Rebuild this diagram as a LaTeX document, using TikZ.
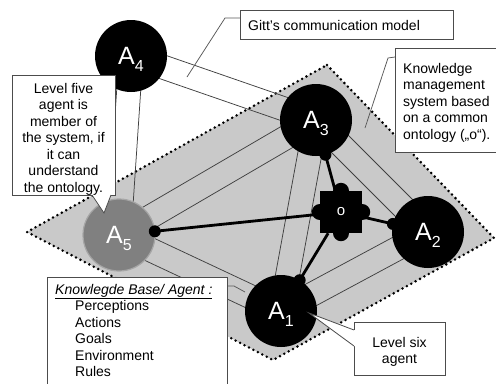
\documentclass[tikz,border=0pt]{standalone}
\usepackage{fontspec}
\setmainfont{Liberation Sans}
\usetikzlibrary{calc}
\pgfdeclarelayer{dia}
\pgfdeclarelayer{bg}
\pgfsetlayers{dia,bg,main}
\newcommand\dfont{\fontsize{14bp}{16.5bp}\selectfont}
\newcommand\afont{\fontsize{25bp}{25bp}\selectfont}
\newcommand\agsub[1]{A\raisebox{-6.5bp}{\fontsize{16bp}{16bp}\selectfont #1}}
\begin{document}
\begin{tikzpicture}[x=1bp,y=-1bp,
  agent/.style={circle, fill=black, minimum size=72bp, inner sep=0pt, text=white, font=\afont, text depth=0pt},
  pairline/.style={draw=black!75, line width=0.75bp},
  thicklink/.style={draw=black, line width=2.8bp},
  cbox/.style={draw=black!70, line width=0.8bp, fill=white, inner sep=0pt, anchor=north west},
  tailline/.style={draw=black!70, line width=0.8bp},
  leadline/.style={draw=black!65, line width=0.75bp},
  txt/.style={inner sep=0pt, font=\dfont},
]
\useasboundingbox (0,0) rectangle (496,383);
\clip (0,0) rectangle (496,383);

% diamond (knowledge management system)
\coordinate (dT) at (327,65);
\coordinate (dR) at (494,238);
\coordinate (dB) at (273,360);
\coordinate (dL) at (27,232);
\begin{pgfonlayer}{dia}
\fill[white] (0,0) rectangle (496,383);
\fill[black!21] (dT) -- (dR) -- (dB) -- (dL) -- cycle;
\draw[line width=2.8bp, dash pattern=on 0bp off 5bp, line cap=round] (dT) -- (dR) -- (dB) -- (dL) -- cycle;
\end{pgfonlayer}

% agents
\node[agent] (A4) at (131,56) {\agsub{4}};
\node[agent] (A3) at (316,120) {\agsub{3}};
\node[agent, fill=black!50, draw=black!35, line width=1.2bp] (A5) at (119,235) {\agsub{5}};
\node[agent] (A1) at (281,311) {\agsub{1}};
\node[agent] (A2) at (428,232) {\agsub{2}};

% ontology node
\node[fill=black, minimum size=42bp, inner sep=0pt, text=white, font=\fontsize{15bp}{15bp}\selectfont] (o) at (341,212) {o};
\fill (o.north) circle (8bp);
\fill (o.south) circle (8bp);
\fill (o.east) circle (8bp);
\fill (o.west) circle (8bp);

% dots at agents
\foreach \a in {A3,A5,A2,A1}{
  \fill ($(\a)!36bp!(o)$) circle (6bp);
}

% callout boxes
\node[cbox, minimum width=213bp, minimum height=29bp] (gitt) at (240,10) {};
\node[cbox, minimum width=106bp, minimum height=104bp] (km) at (395,48) {};
\node[cbox, minimum width=103bp, minimum height=120bp] (l5) at (12,75) {};
\node[cbox, minimum width=180bp, minimum height=115bp] (kb) at (47,277) {};
\node[cbox, minimum width=91bp, minimum height=53bp] (l6) at (354,322) {};

% tails
\fill[white] (92,190) -- (92,195) -- (104,213) -- (111,195) -- (111,190) -- cycle;
\draw[tailline] (92,195) -- (104,213) -- (111,195);
\fill[white] (358,330) -- (354,330) -- (309,313) -- (354,346) -- (358,346) -- cycle;
\draw[tailline] (354,330) -- (309,313) -- (354,346);

% texts
\node[txt, anchor=base west] (gittT) at (248,30) {Gitt's communication model};
\node[txt, anchor=base west] (kmT) at (403,73) {\begin{tabular}[t]{@{}l@{}}Knowledge\\management\\system based\\on a common\\ontology („o“).\end{tabular}};
\node[txt, anchor=base] (l5T) at (63.5,93) {\begin{tabular}[t]{@{}c@{}}Level five\\agent is\\member of\\the system, if\\it can\\understand\\the ontology.\end{tabular}};
\node[txt, anchor=base] (l6T) at (399.5,347) {\begin{tabular}[t]{@{}c@{}}Level six\\agent\end{tabular}};
\node[txt, anchor=base west] (kbT) at (55,294) {\begin{tabular}[t]{@{}l@{}}\underline{\textit{Knowlegde Base/ Agent :}}\\\hspace*{20bp}Perceptions\\\hspace*{20bp}Actions\\\hspace*{20bp}Goals\\\hspace*{20bp}Environment\\\hspace*{20bp}Rules\end{tabular}};

% lines under the circles
\coordinate (gittTip) at (187,77);
\coordinate (kmTip) at (365,128);
\coordinate (kbTip) at (245,292);
\begin{pgfonlayer}{bg}
\foreach \a/\b in {A4/A3, A4/A5, A5/A3, A5/A1, A3/A1, A3/A2, A1/A2}{
  \draw[pairline] ($(\a)!12bp!90:(\b)$) -- ($(\b)!12bp!-90:(\a)$);
  \draw[pairline] ($(\a)!12bp!-90:(\b)$) -- ($(\b)!12bp!90:(\a)$);
}
\foreach \a in {A3,A5,A2,A1}{
  \draw[thicklink] (\a) -- (o);
}
\draw[leadline] ([yshift=-8bp]gitt.north west) -- (225,18) -- (gittTip);
\draw[leadline] ([yshift=-9bp]km.north west) -- (388,58) -- (kmTip);
\draw[leadline] ([yshift=-9bp]kb.north east) -- (234,286) -- (kbTip);
\end{pgfonlayer}
\end{tikzpicture}
\end{document}
